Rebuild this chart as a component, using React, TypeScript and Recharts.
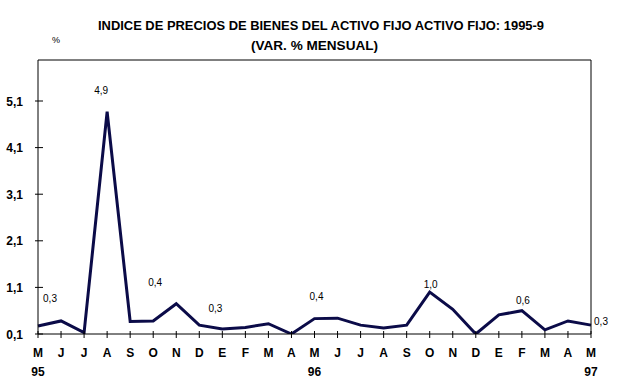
import React from 'react';
import { LineChart, Line, XAxis, YAxis, LabelList } from 'recharts';

const months = ['M','J','J','A','S','O','N','D','E','F','M','A','M','J','J','A','S','O','N','D','E','F','M','A','M'];
const years = ['95','','','','','','','','','','','','96','','','','','','','','','','','','97'];
const values = [0.27,0.38,0.13,4.87,0.37,0.38,0.75,0.29,0.21,0.24,0.32,0.10,0.43,0.44,0.29,0.23,0.29,1.0,0.63,0.10,0.51,0.60,0.19,0.38,0.29];
const pointLabels = ['0,3','','','4,9','','0,4','','','0,3','','','','0,4','','','','','1,0','','','','0,6','','','0,3'];
const yTicks = [0.1,1.1,2.1,3.1,4.1,5.1];
const yMin = 0.1;
const yMax = 5.98;

const labelOffsets: Record<number, [number, number]> = {
  0: [12, -28], 3: [-6, -21], 5: [2, -38], 8: [-7, -20], 12: [2, -22], 17: [1, -8], 21: [1, -10], 24: [10, -4],
};

const data = values.map((v, i) => ({ i, value: v, label: pointLabels[i] }));

const FONT = '"Liberation Sans", Arial, sans-serif';
const LINE = '#0b0b48';

const YTick = (props: any) => {
  const { x, y, payload } = props;
  return (
    <g>
      <line x1={x - 3} x2={x + 5} y1={y} y2={y} stroke="#000" strokeWidth={1} />
      <text x={x - 15} y={y + 4.5} textAnchor="end" fontFamily={FONT} fontWeight="bold" fontSize={12} fill="#000">
        {Number(payload.value).toFixed(1).replace('.', ',')}
      </text>
    </g>
  );
};

const XTick = (props: any) => {
  const { x, y, payload } = props;
  const idx = Number(payload.value);
  return (
    <g>
      <line x1={x} x2={x} y1={y - 3} y2={y + 4} stroke="#000" strokeWidth={1} />
      <text x={x} y={y + 22.5} textAnchor="middle" fontFamily={FONT} fontWeight="bold" fontSize={12} fill="#000">
        {months[idx]}
      </text>
      {years[idx] ? (
        <text x={x} y={y + 42} textAnchor="middle" fontFamily={FONT} fontWeight="bold" fontSize={12} fill="#000">
          {years[idx]}
        </text>
      ) : null}
    </g>
  );
};

const PointLabel = (props: any) => {
  const { x, y, value, index } = props;
  if (!value) return null;
  const off = labelOffsets[index] || [0, -12];
  return (
    <text x={x + off[0]} y={y + off[1] + 3.5} textAnchor="middle" fontFamily={FONT} fontSize={10} fill="#000">
      {value}
    </text>
  );
};

export default function App() {
  return (
    <div style={{ position: 'absolute', left: 0, top: 0, width: 642, height: 385, background: '#fff' }}>
      <LineChart width={642} height={385} data={data} margin={{ top: 59, right: 50, bottom: 0, left: 0 }}>
        <XAxis
          dataKey="i"
          type="category"
          scale="point"
          height={51}
          axisLine={{ stroke: '#000', strokeWidth: 1 }}
          tickLine={false}
          tickSize={0}
          tickMargin={0}
          interval={0}
          tick={<XTick />}
        />
        <XAxis
          xAxisId="top"
          dataKey="i"
          type="category"
          scale="point"
          orientation="top"
          height={1}
          tick={false}
          tickLine={false}
          axisLine={{ stroke: '#000', strokeWidth: 1 }}
        />
        <YAxis
          width={38}
          domain={[yMin, yMax]}
          ticks={yTicks}
          type="number"
          allowDataOverflow
          axisLine={{ stroke: '#000', strokeWidth: 1 }}
          tickLine={false}
          tickSize={0}
          tickMargin={0}
          interval={0}
          tick={<YTick />}
        />
        <YAxis
          yAxisId="right"
          orientation="right"
          width={1}
          domain={[yMin, yMax]}
          type="number"
          tick={false}
          tickLine={false}
          axisLine={{ stroke: '#000', strokeWidth: 1 }}
        />
        <Line dataKey="value" stroke={LINE} strokeWidth={3} dot={false} isAnimationActive={false}>
          <LabelList dataKey="label" content={<PointLabel />} />
        </Line>
      </LineChart>
      <svg width={642} height={385} style={{ position: 'absolute', left: 0, top: 0, pointerEvents: 'none' }}>
        <text x={321} y={29.5} textAnchor="middle" fontFamily='"Liberation Sans Narrow", "Arial Narrow", "Liberation Sans", sans-serif' fontWeight="bold" fontSize={13} fill="#000" textLength={446} lengthAdjust="spacingAndGlyphs">
          INDICE DE PRECIOS DE BIENES DEL ACTIVO FIJO ACTIVO FIJO: 1995-9
        </text>
        <text x={314.5} y={49.5} textAnchor="middle" fontFamily='"Liberation Sans Narrow", "Arial Narrow", "Liberation Sans", sans-serif' fontWeight="bold" fontSize={13} fill="#000" textLength={127} lengthAdjust="spacingAndGlyphs">
          (VAR. % MENSUAL)
        </text>
        <text x={56} y={43} textAnchor="middle" fontFamily={FONT} fontSize={9} fill="#000">%</text>
      </svg>
    </div>
  );
}
